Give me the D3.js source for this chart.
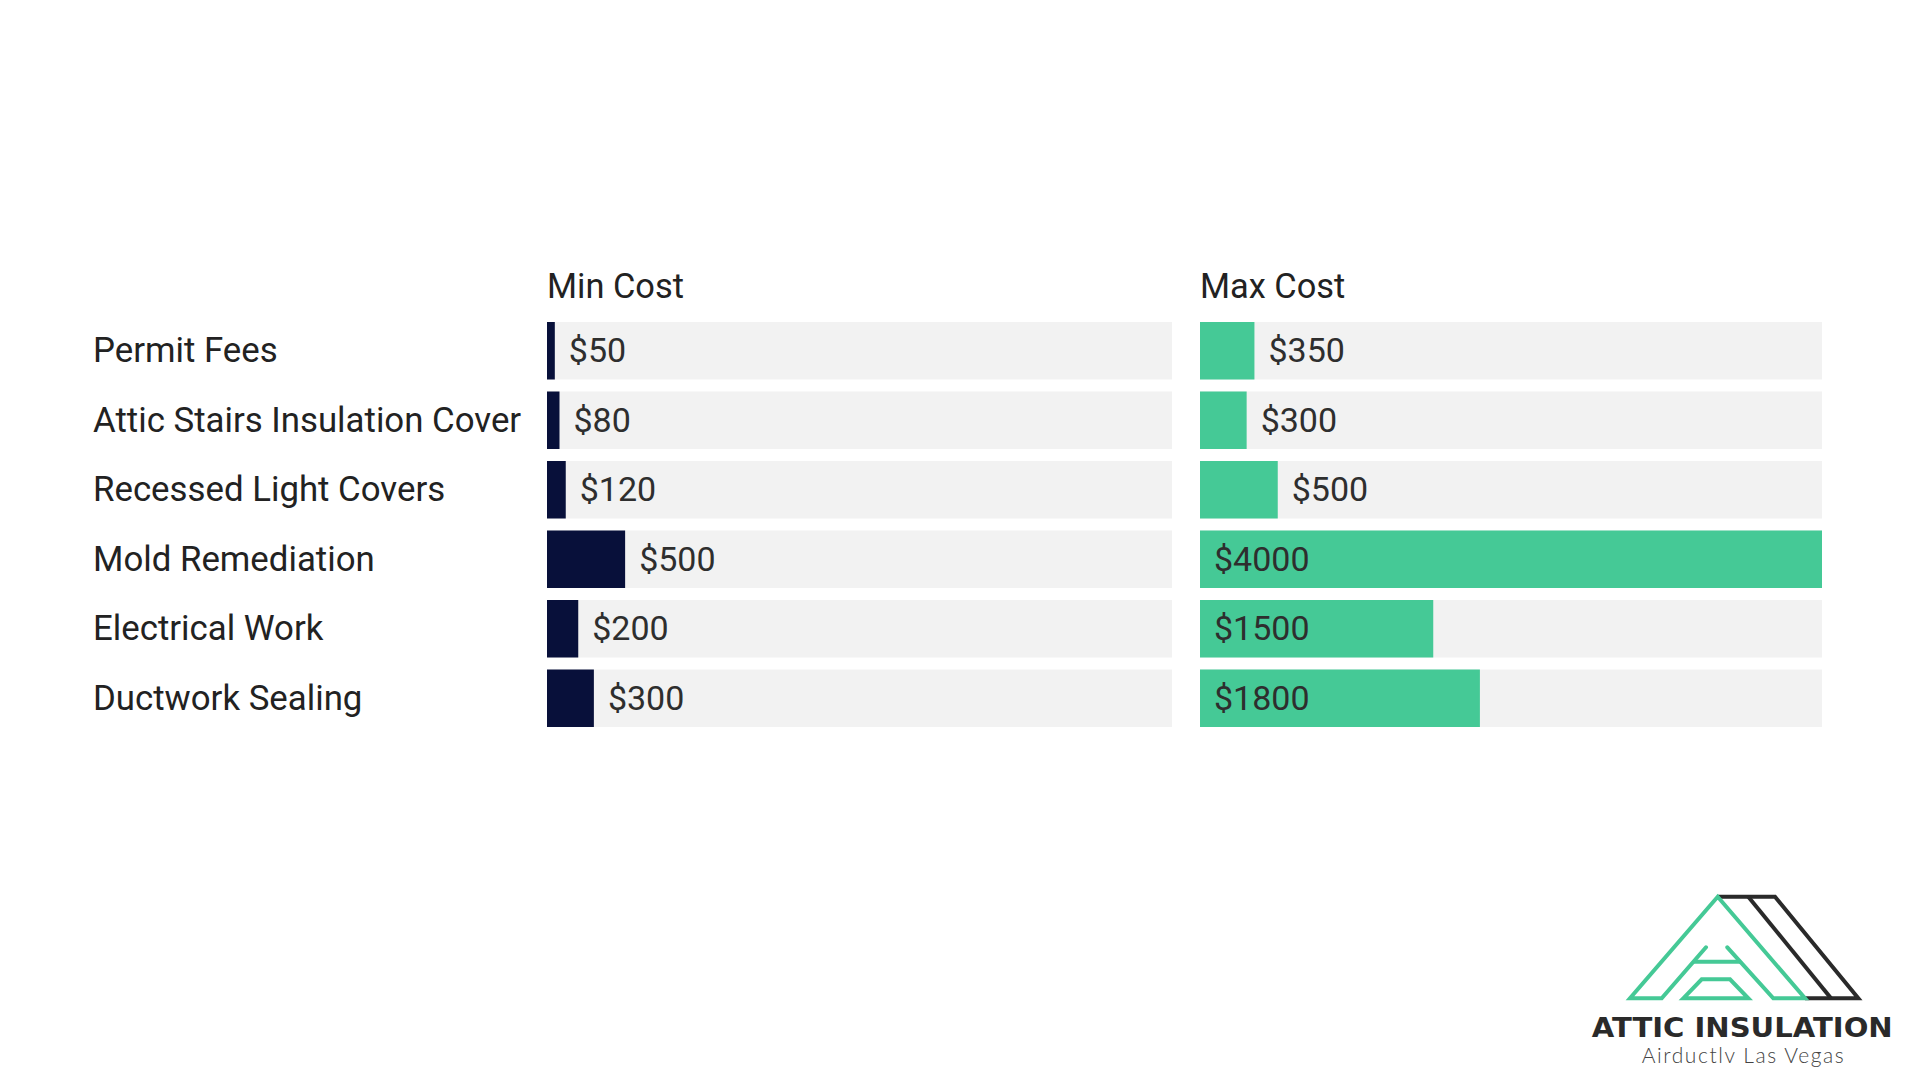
<!DOCTYPE html>
<html>
<head>
<meta charset="utf-8">
<script src="https://cdn.jsdelivr.net/npm/d3@7"></script>
<style>
  html, body { margin: 0; padding: 0; background: #ffffff; }
  svg { display: block; }
</style>
</head>
<body>
<svg id="chart" width="1920" height="1080"></svg>
<script>
// ---- data ----
const categories = ["Permit Fees", "Attic Stairs Insulation Cover", "Recessed Light Covers", "Mold Remediation", "Electrical Work", "Ductwork Sealing"];
const minCost = [50, 80, 120, 500, 200, 300];
const maxCost = [350, 300, 500, 4000, 1500, 1800];
const seriesTitles = ["Min Cost", "Max Cost"];
const domainMax = 4000;

// ---- layout ----
const svg = d3.select("#chart");
const W = 1920, H = 1080;
svg.append("rect").attr("width", W).attr("height", H).attr("fill", "#ffffff");

const FONT = "Roboto, 'Noto Sans', sans-serif";
const y = d3.scaleBand().domain(categories).range([322, 727]).paddingInner(0.1727).paddingOuter(0);

const panels = [
  { title: seriesTitles[0], values: minCost, color: "#08103a", x: d3.scaleLinear().domain([0, domainMax]).range([547, 1172]) },
  { title: seriesTitles[1], values: maxCost, color: "#45c996", x: d3.scaleLinear().domain([0, domainMax]).range([1200, 1822]) }
];

// category labels
svg.append("g").selectAll("text").data(categories).join("text")
  .attr("x", 93)
  .attr("y", d => y(d) + y.bandwidth() / 2 + 11.5)
  .attr("font-family", FONT).attr("font-size", 34.8).attr("fill", "#222222")
  .text(d => d);

panels.forEach(p => {
  const g = svg.append("g");
  const [x0, x1] = p.x.range();
  g.append("text").attr("x", x0).attr("y", 298)
    .attr("font-family", FONT).attr("font-size", 34.4).attr("fill", "#222222")
    .text(p.title);

  const rows = categories.map((c, i) => ({ c, v: p.values[i] }));
  g.selectAll("rect.track").data(rows).join("rect").attr("class", "track")
    .attr("x", x0).attr("y", d => y(d.c)).attr("width", x1 - x0).attr("height", y.bandwidth())
    .attr("fill", "#f2f2f2");
  g.selectAll("rect.bar").data(rows).join("rect").attr("class", "bar")
    .attr("x", x0).attr("y", d => y(d.c)).attr("width", d => p.x(d.v) - x0).attr("height", y.bandwidth())
    .attr("fill", p.color);
  g.selectAll("text.val").data(rows).join("text").attr("class", "val")
    .attr("y", d => y(d.c) + y.bandwidth() / 2 + 11.5)
    .attr("font-family", FONT).attr("font-size", 34).attr("fill", "#2e2e2e")
    .text(d => "$" + d.v)
    .each(function(d) {
      const tw = this.getComputedTextLength();
      const bw = p.x(d.v) - x0;
      const inside = bw >= tw + 30;
      d3.select(this).attr("x", inside ? x0 + 14 : p.x(d.v) + 14);
    });
});

// ---- logo ----
const logo = svg.append("g").attr("fill", "none").attr("stroke-width", 4).attr("stroke-linejoin", "miter");
const line = d3.line();
const green = "#45c996", dark = "#2a2a2a";
// black stripes
logo.append("path").attr("stroke", dark).attr("d", line([[1717.7, 896.7], [1775, 896.7], [1858.3, 998.3], [1805, 998.3]]));
logo.append("path").attr("stroke", dark).attr("d", line([[1748.3, 896.7], [1831, 998.3]]));
// green outer A
logo.append("path").attr("stroke", green).attr("stroke-linecap", "round")
  .attr("d", line([[1706, 947.3], [1661.7, 998.3], [1630, 998.3], [1717.7, 896.7], [1805, 998.3], [1773.3, 998.3], [1727.3, 947.3]]));
// crossbar
logo.append("path").attr("stroke", green).attr("d", line([[1693.3, 961.7], [1740.3, 961.7]]));
// inner trapezoid
logo.append("path").attr("stroke", green).attr("d", line([[1683.3, 998.3], [1701.7, 979.3], [1730, 979.3], [1748.3, 998.3]]) + "Z");

svg.append("text").attr("x", 1591.7).attr("y", 1037.3)
  .attr("font-family", "'DejaVu Sans', sans-serif").attr("font-weight", 700).attr("font-size", 26)
  .attr("fill", "#2a2a2a").attr("textLength", 301).attr("lengthAdjust", "spacingAndGlyphs")
  .text("ATTIC INSULATION");
svg.append("text").attr("x", 1641.7).attr("y", 1063.3)
  .attr("font-family", "Lato, 'Open Sans', sans-serif").attr("font-weight", 300).attr("font-size", 21)
  .attr("fill", "#444444").attr("textLength", 202).attr("lengthAdjust", "spacing")
  .text("Airductlv Las Vegas");
</script>
</body>
</html>
